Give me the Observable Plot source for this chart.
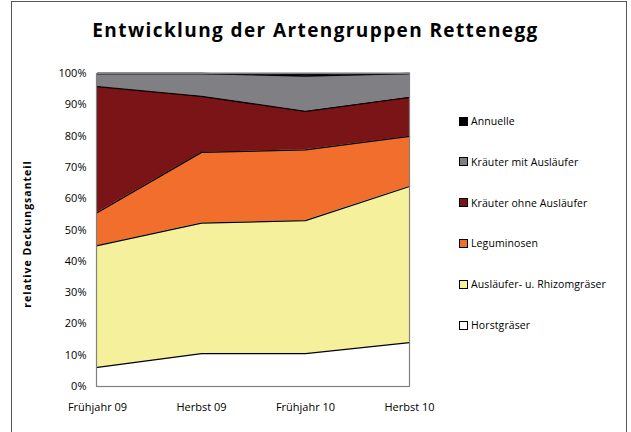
<!DOCTYPE html>
<html>
<head>
<meta charset="utf-8">
<script src="https://cdn.jsdelivr.net/npm/d3@7"></script>
<script src="https://cdn.jsdelivr.net/npm/@observablehq/plot@0.6"></script>
<style>
  body { margin: 0; background: #fff; }
  #wrap { position: relative; width: 631px; height: 432px; overflow: hidden; font-family: "Open Sans", "Noto Sans", sans-serif; }
  #border { position: absolute; left: 11px; top: 1px; width: 616px; height: 440px; border: 1.5px solid #555; box-sizing: border-box; }
  #title { position: absolute; left: 0; width: 631px; top: 17px; text-align: center; font-weight: bold; font-size: 19px; letter-spacing: 1.4px; color: #000; }
  #ytitle { position: absolute; left: 27px; top: 234px; transform: translate(-50%, -50%) rotate(-90deg); white-space: nowrap; font-weight: bold; font-size: 10.5px; letter-spacing: 1px; }
  #legend { position: absolute; left: 459px; top: 0; }
  .item { position: absolute; left: 0; white-space: nowrap; font-size: 10.5px; letter-spacing: 0.1px; display: flex; align-items: center; }
  .sw { width: 7px; height: 7px; border: 1px solid #000; margin-right: 3px; }
  #chart { position: absolute; left: 0; top: 0; }
</style>
</head>
<body>
<div id="wrap">
  <div id="chart"></div>
  <div id="border"></div>
  <div id="title">Entwicklung der Artengruppen Rettenegg</div>
  <div id="ytitle">relative Deckungsanteil</div>
  <div id="legend"></div>
</div>
<script>
const periods = ["Frühjahr 09", "Herbst 09", "Frühjahr 10", "Herbst 10"];
const groups = ["Horstgräser", "Ausläufer- u. Rhizomgräser", "Leguminosen", "Kräuter ohne Ausläufer", "Kräuter mit Ausläufer", "Annuelle"];
const horst = [6.1, 10.5, 10.5, 14.0];
const auslaeufer = [38.9, 41.7, 42.5, 49.9];
const leguminosen = [10.6, 22.6, 22.6, 16.0];
const kraeuterOhne = [40.2, 17.9, 12.3, 12.5];
const kraeuterMit = [4.2, 7.3, 11.3, 7.6];
const annuelle = [0, 0, 0.8, 0];
const colors = ["#ffffff", "#f5f09b", "#f26e2c", "#7a1416", "#7f7f84", "#000000"];
const yTicks = [0, 10, 20, 30, 40, 50, 60, 70, 80, 90, 100];

const seriesValues = [horst, auslaeufer, leguminosen, kraeuterOhne, kraeuterMit, annuelle];
const data = [];
groups.forEach((g, gi) => periods.forEach((p, pi) => data.push({group: g, period: p, value: seriesValues[gi][pi]})));

const plot = Plot.plot({
  width: 631,
  height: 432,
  marginLeft: 96,
  marginRight: 222,
  marginTop: 73,
  marginBottom: 46,
  style: {fontFamily: "'Open Sans', 'Noto Sans', sans-serif", fontSize: "11px", color: "#000", background: "transparent"},
  x: {type: "point", domain: periods, padding: 0, label: null},
  y: {domain: [0, 100], label: null},
  color: {domain: groups, range: colors},
  marks: [
    Plot.areaY(data, {x: "period", y: "value", z: "group", fill: "group", order: groups}),
    Plot.lineY(data, Plot.stackY2({x: "period", y: "value", z: "group", order: groups, stroke: "#000", strokeWidth: 1.3})),
    Plot.frame({stroke: "#808080", strokeWidth: 1.2}),
    Plot.axisY({ticks: yTicks, tickFormat: d => d + "%", tickSize: 0, tickPadding: 10, label: null}),
    Plot.axisX({tickSize: 0, tickPadding: 17, label: null})
  ]
});
document.getElementById("chart").appendChild(plot);

const legend = document.getElementById("legend");
const legendOrder = groups.slice().reverse();
const legendColors = colors.slice().reverse();
legendOrder.forEach((g, i) => {
  const item = document.createElement("div");
  item.className = "item";
  item.style.top = (114 + i * 40.8) + "px";
  const sw = document.createElement("div");
  sw.className = "sw";
  sw.style.background = legendColors[i];
  item.appendChild(sw);
  const t = document.createElement("span");
  t.textContent = g;
  item.appendChild(t);
  legend.appendChild(item);
});
</script>
</body>
</html>
